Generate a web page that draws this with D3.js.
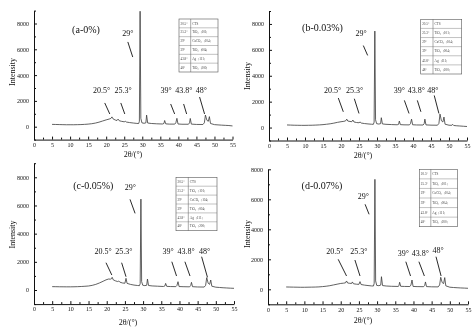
<!DOCTYPE html>
<html><head><meta charset="utf-8">
<script src="https://cdn.jsdelivr.net/npm/d3@7"></script>
<style>
html,body{margin:0;padding:0;background:#fff;}
svg{display:block;font-family:"Liberation Serif","Times New Roman",serif;will-change:transform;}
</style></head>
<body>
<svg id="chart" width="473" height="327"></svg>
<script>
// ---------------- DATA ----------------
const panelTitles = ["(a-0%)", "(b-0.03%)", "(c-0.05%)", "(d-0.07%)"];
const peakLabels = ["20.5°", "25.3°", "29°", "39°", "43.8°", "48°"];
const phaseNames = ["CTS", "TiO₂（101）", "CaCO₃（104）", "TiO₂（004）", "Ag（111）", "TiO₂（200）"];
const xTicks = [0, 5, 10, 15, 20, 25, 30, 35, 40, 45, 50, 55];
const yTicks = [0, 2000, 4000, 6000, 8000];
const xTitle = "2θ/(°)";
const yTitle = "Intensity";

const seriesA = [[5,180],[6,172],[7,165],[8,158],[9,150],[10,152],[11,150],[12,158],[13,165],[14,180],[15,200],[16,232],[17,280],[18,350],[19,440],[20,530],[20.8,590],[21.3,640],[21.6,760],[21.9,610],[22.5,520],[23.0,480],[23.3,590],[23.6,465],[24.2,420],[25.0,380],[25.3,420],[25.6,360],[26.5,320],[27.5,285],[28.5,255],[29.0,245],[29.2,420],[29.4,8950],[29.6,650],[29.9,300],[30.5,265],[31.0,300],[31.2,900],[31.5,285],[32.5,250],[34,225],[35.6,210],[36.0,250],[36.2,480],[36.5,220],[37.5,200],[39.0,200],[39.3,300],[39.6,650],[39.9,210],[41,190],[42.8,190],[43.1,300],[43.3,640],[43.6,200],[45,175],[46.8,170],[47.2,300],[47.5,900],[47.9,500],[48.3,420],[48.6,780],[48.9,250],[50,160],[51,140],[52,120],[53,105],[54,90],[55,60]];
const seriesB = [[5,200],[6,190],[7,180],[8,175],[9,170],[10,170],[11,175],[12,180],[13,190],[14,205],[15,225],[16,255],[17,290],[18,340],[19,400],[20,450],[20.8,480],[21.3,520],[21.6,650],[21.9,500],[22.5,470],[23.0,450],[23.3,580],[23.6,430],[24.3,390],[25.0,370],[25.3,430],[25.6,350],[26.5,310],[27.5,280],[28.5,255],[29.0,250],[29.2,420],[29.4,7450],[29.6,600],[29.9,300],[30.5,270],[31.0,300],[31.2,760],[31.5,280],[32.5,250],[34,230],[35.6,215],[36.0,250],[36.2,500],[36.5,225],[37.5,210],[39.0,205],[39.3,300],[39.6,650],[39.9,215],[41,200],[42.8,195],[43.1,300],[43.3,650],[43.6,205],[45,185],[46.8,180],[47.2,320],[47.5,1040],[47.9,520],[48.3,430],[48.6,810],[48.9,260],[50,180],[50.8,175],[51.0,250],[51.3,160],[52,140],[53,120],[54,100],[55,80]];
const seriesC = [[5,240],[6,235],[7,230],[8,228],[9,225],[10,225],[11,230],[12,238],[13,250],[14,265],[15,285],[16,330],[17,400],[18,500],[19,620],[19.8,720],[20.5,780],[21.0,770],[21.3,800],[21.5,900],[21.8,720],[22.4,650],[23.0,600],[23.3,640],[23.6,560],[24.3,500],[25.0,480],[25.3,830],[25.6,470],[26.5,400],[27.5,350],[28.5,320],[29.0,310],[29.2,450],[29.4,6450],[29.6,600],[29.9,340],[30.5,310],[31.0,340],[31.2,780],[31.5,320],[32.5,290],[34,270],[35.6,250],[36.0,290],[36.2,470],[36.5,260],[37.5,245],[39.0,240],[39.3,320],[39.6,590],[39.9,245],[41,235],[42.8,225],[43.1,320],[43.3,545],[43.6,235],[45,215],[46.8,210],[47.2,330],[47.5,880],[47.9,480],[48.3,400],[48.6,710],[48.9,270],[50,200],[51,180],[52,160],[53,145],[54,130],[55,120]];
const seriesD = [[5,155],[6,150],[7,145],[8,140],[9,135],[10,135],[11,140],[12,145],[13,150],[14,160],[15,180],[16,205],[17,240],[18,290],[19,340],[20,390],[20.8,410],[21.3,430],[21.6,555],[21.9,420],[22.5,400],[23.0,390],[23.2,490],[23.5,370],[24.3,340],[25.0,330],[25.3,510],[25.6,320],[26.5,280],[27.5,250],[28.5,225],[29.0,220],[29.2,400],[29.4,7330],[29.6,560],[29.9,260],[30.5,240],[31.0,280],[31.2,840],[31.5,250],[32.5,220],[34,200],[35.8,190],[36.0,230],[36.2,470],[36.5,200],[37.5,190],[39.0,185],[39.3,280],[39.6,620],[39.9,190],[41,180],[42.8,175],[43.1,260],[43.3,490],[43.6,180],[45,165],[46.8,160],[47.2,290],[47.5,800],[47.9,450],[48.3,380],[48.6,780],[48.9,230],[50,140],[51,120],[52,105],[53,90],[54,80],[55,67]];

// annotation placements in data units: [label index, textX, textY, lineX1, lineY1, lineX2, lineY2]
const annotA = [[0,18.7,2610,19.6,1840,21.0,985],[1,24.7,2610,24.05,1840,25.15,985],[2,26.0,7030,26.0,6570,27.36,5400],[3,36.6,2610,37.87,1760,38.97,985],[4,41.5,2610,41.46,1760,42.29,985],[5,46.4,2610,45.88,2300,47.26,985]];
const annotB = [[0,17.7,2680,19.25,2280,20.64,1216],[1,23.8,2680,23.7,2226,25.0,1087],[2,25.6,7090,26.2,6330,27.4,5570],[3,36.2,2680,37.6,2097,38.9,1087],[4,40.9,2680,41.2,2097,42.2,1216],[5,45.5,2680,45.9,2477,47.2,1087]];
const annotC = [[0,19.0,2590,19.8,1936,21.4,1064],[1,24.7,2590,24.1,1936,25.3,943],[2,26.5,7128,26.4,6433,27.8,5440],[3,36.9,2590,37.9,2007,39.2,993],[4,41.8,2590,41.5,2007,42.9,993],[5,46.9,2590,46.1,2362,47.7,901]];
const annotD = [[0,18.4,2353,19.3,2000,21.6,887],[1,25.0,2353,23.9,1953,25.3,887],[2,26.2,6053,26.7,5667,27.8,5000],[3,37.2,2220,37.9,1840,39.2,887],[4,41.9,2220,41.5,1840,43.0,887],[5,46.8,2387,46.2,2173,47.6,887]];

// ---------------- LAYOUT ----------------
const panels = [
  {title:panelTitles[0], data:seriesA, ann:annotA, x:[34,232.5], yDom:[-1000,9000], y:[139.6,10.6],
   titlePos:[86,33], yTitlePos:[14.5,72], xTitlePos:[133,157], legend:[179,19,39,53]},
  {title:panelTitles[1], data:seriesB, ann:annotB, x:[269,467], yDom:[-1000,9000], y:[140.5,11],
   titlePos:[322.5,30.5], yTitlePos:[249.5,76], xTitlePos:[363,157.5], legend:[420.7,19.3,41,54.7]},
  {title:panelTitles[2], data:seriesC, ann:annotC, x:[34,234], yDom:[-1000,9000], y:[304.1,163.2],
   titlePos:[93.3,189], yTitlePos:[14.5,234.5], xTitlePos:[128,324.5], legend:[176,177.3,41,53.4]},
  {title:panelTitles[3], data:seriesD, ann:annotD, x:[268,468], yDom:[-1000,8000], y:[304.3,169.3],
   titlePos:[322,189], yTitlePos:[249.5,234], xTitlePos:[363,323], legend:[419.3,169.3,38.4,57.4]}
];

const svg = d3.select("#chart");
const ink = "#111";

panels.forEach(p => {
  const g = svg.append("g");
  const x = d3.scaleLinear().domain([0,55]).range(p.x);
  const y = d3.scaleLinear().domain(p.yDom).range(p.y);

  // minor ticks
  const xMinor = d3.range(2.5, 55, 5);
  const yMinor = d3.range(1000, p.yDom[1] + 1, 2000).concat([-1000]);
  g.append("g").attr("transform", `translate(0,${y(p.yDom[0])})`)
    .call(d3.axisBottom(x).tickValues(xMinor).tickSize(-2).tickSizeOuter(0).tickFormat(""))
    .call(a => a.select(".domain").remove())
    .call(a => a.selectAll("line").attr("stroke", ink));
  g.append("g").attr("transform", `translate(${x(0)},0)`)
    .call(d3.axisLeft(y).tickValues(yMinor).tickSize(-2).tickSizeOuter(0).tickFormat(""))
    .call(a => a.select(".domain").remove())
    .call(a => a.selectAll("line").attr("stroke", ink));

  // major axes
  const xa = g.append("g").attr("transform", `translate(0,${y(p.yDom[0])})`)
    .call(d3.axisBottom(x).tickValues(xTicks).tickSize(-3).tickSizeOuter(0).tickPadding(3).tickFormat(d3.format("d")));
  const ya = g.append("g").attr("transform", `translate(${x(0)},0)`)
    .call(d3.axisLeft(y).tickValues(yTicks).tickSize(-3).tickSizeOuter(0).tickPadding(5).tickFormat(d3.format("d")));
  [xa, ya].forEach(a => {
    a.select(".domain").attr("stroke", ink).attr("stroke-width", 1);
    a.selectAll("line").attr("stroke", ink);
    a.selectAll("text").attr("fill", ink).style("font-family", "Liberation Serif").style("font-size", "6px");
  });

  // curve
  const line = d3.line().x(d => x(d[0])).y(d => y(d[1]));
  g.append("path").datum(p.data).attr("d", line)
    .attr("fill", "none").attr("stroke", "#3a3a3a").attr("stroke-width", 0.8).attr("stroke-linejoin", "round");

  // annotations
  p.ann.forEach(a => {
    g.append("line").attr("x1", x(a[3])).attr("y1", y(a[4])).attr("x2", x(a[5])).attr("y2", y(a[6]))
      .attr("stroke", ink).attr("stroke-width", 0.9);
    g.append("text").attr("x", x(a[1])).attr("y", y(a[2])).attr("text-anchor", "middle")
      .style("font-size", "8px").attr("fill", ink).text(peakLabels[a[0]]);
  });

  // title
  g.append("text").attr("x", p.titlePos[0]).attr("y", p.titlePos[1]).attr("text-anchor", "middle")
    .style("font-size", "10px").attr("fill", ink).text(p.title);

  // axis titles
  g.append("text").attr("transform", `translate(${p.yTitlePos[0]},${p.yTitlePos[1]}) rotate(-90)`)
    .attr("text-anchor", "middle").style("font-size", "8px").attr("fill", ink).text(yTitle);
  g.append("text").attr("x", p.xTitlePos[0]).attr("y", p.xTitlePos[1]).attr("text-anchor", "middle")
    .style("font-size", "8px").attr("fill", ink).text(xTitle);

  // legend table
  const [lx, ly, lw, lh] = p.legend;
  const rh = lh / peakLabels.length;
  const c1 = lw * 0.3;
  const lg = g.append("g");
  lg.append("rect").attr("x", lx).attr("y", ly).attr("width", lw).attr("height", lh)
    .attr("fill", "none").attr("stroke", "#555").attr("stroke-width", 0.6);
  lg.append("line").attr("x1", lx + c1).attr("x2", lx + c1).attr("y1", ly).attr("y2", ly + lh)
    .attr("stroke", "#555").attr("stroke-width", 0.5);
  peakLabels.forEach((lab, i) => {
    if (i > 0) lg.append("line").attr("x1", lx).attr("x2", lx + lw).attr("y1", ly + i * rh).attr("y2", ly + i * rh)
      .attr("stroke", "#666").attr("stroke-width", 0.4);
    lg.append("text").attr("x", lx + 1.5).attr("y", ly + i * rh + rh / 2 + 1.2)
      .style("font-size", "3.3px").attr("fill", "#444").text(lab);
    lg.append("text").attr("x", lx + c1 + 1.5).attr("y", ly + i * rh + rh / 2 + 1.2)
      .style("font-size", "3.3px").attr("fill", "#444").text(phaseNames[i]);
  });
});
</script>
</body></html>
